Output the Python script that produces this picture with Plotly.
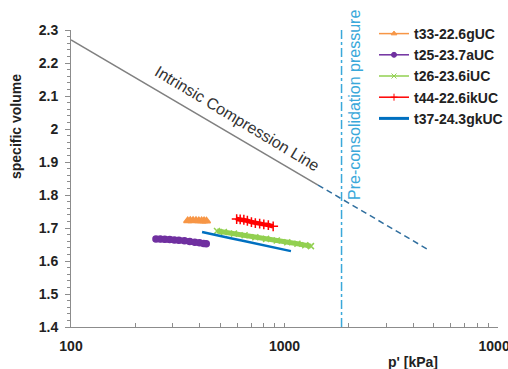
import plotly.graph_objects as go

# ---- data ----
icl_p = [100, 1436]
icl_v = [2.27, 1.83]
icl_ext_p = [1436, 4750]
icl_ext_v = [1.83, 1.633]
precon_p = [1850, 1850]
precon_v = [1.4, 2.3]

t33_p = [352, 362, 373, 385, 397, 409, 420, 431]
t33_v = [1.722, 1.723, 1.723, 1.723, 1.722, 1.722, 1.722, 1.721]

t25_p = [250, 262, 275, 290, 305, 320, 340, 360, 380, 400, 418, 430]
t25_v = [1.667, 1.667, 1.666, 1.665, 1.664, 1.663, 1.661, 1.659, 1.657, 1.655, 1.653, 1.652]

t26_p = [483, 520, 580, 650, 730, 820, 920, 1030, 1150, 1250, 1330]
t26_v = [1.691, 1.688, 1.683, 1.678, 1.672, 1.667, 1.662, 1.657, 1.652, 1.648, 1.645]

t44_p = [597, 620, 645, 670, 700, 730, 765, 800, 840, 885]
t44_v = [1.727, 1.726, 1.725, 1.722, 1.718, 1.715, 1.713, 1.711, 1.709, 1.705]

t37_p = [411, 450, 500, 560, 630, 710, 800, 900, 1000, 1072]
t37_v = [1.688, 1.683, 1.676, 1.669, 1.662, 1.655, 1.648, 1.641, 1.634, 1.630]

x_tickvals = [100, 200, 300, 400, 500, 600, 700, 800, 900,
              1000, 2000, 3000, 4000, 5000, 6000, 7000, 8000, 9000, 10000]
x_ticktext = ["100"] + [""] * 8 + ["1000"] + [""] * 8 + ["10000"]
y_tickvals = [1.4, 1.5, 1.6, 1.7, 1.8, 1.9, 2.0, 2.1, 2.2, 2.3]
y_ticktext = ["1.4", "1.5", "1.6", "1.7", "1.8", "1.9", "2", "2.1", "2.2", "2.3"]

series = [
    ("t33-22.6gUC", t33_p, t33_v, "#F79646", "triangle-up", 7, 5),
    ("t25-23.7aUC", t25_p, t25_v, "#7030A0", "circle", 6, 6),
    ("t26-23.6iUC", t26_p, t26_v, "#92D050", "x-thin-open", 6, 5),
    ("t44-22.6ikUC", t44_p, t44_v, "#FF0000", "cross-thin-open", 7, 4.5),
    ("t37-24.3gkUC", t37_p, t37_v, "#0070C0", None, 0, 2.5),
]

fig = go.Figure()

fig.add_trace(go.Scatter(x=icl_p, y=icl_v, mode="lines",
                         line=dict(color="#808080", width=1.6), showlegend=False))
fig.add_trace(go.Scatter(x=icl_ext_p, y=icl_ext_v, mode="lines",
                         line=dict(color="#2F6E9E", width=1.5, dash="6px,4px"), showlegend=False))
fig.add_trace(go.Scatter(x=precon_p, y=precon_v, mode="lines",
                         line=dict(color="#3AA8DA", width=1.5, dash="dashdot"), showlegend=False))

# data traces
for name, p, v, col, sym, msize, lw in series:
    if sym:
        fig.add_trace(go.Scatter(x=p, y=v, mode="lines+markers", showlegend=False,
                                 line=dict(color=col, width=lw),
                                 marker=dict(symbol=sym, size=msize, color=col,
                                             line=dict(color=col, width=1.5))))
    else:
        fig.add_trace(go.Scatter(x=p, y=v, mode="lines", showlegend=False,
                                 line=dict(color=col, width=lw)))

# legend entries
for i, (name, p, v, col, sym, msize, lw) in enumerate(series):
    if sym:
        fig.add_trace(go.Scatter(x=[None], y=[None], mode="lines+markers", name=name,
                                 legendgroup=str(i),
                                 line=dict(color=col, width=1.5),
                                 marker=dict(symbol=sym, size=5, color=col,
                                             line=dict(color=col, width=1))))
    else:
        fig.add_trace(go.Scatter(x=[None], y=[None], mode="lines", name=name,
                                 legendgroup=str(i),
                                 line=dict(color=col, width=3)))

L, R, T, B = 71, 10, 30, 42
W, H = 508, 369
pw, ph = W - L - R, H - T - B

def px(xp):
    return (xp - L) / pw

def py(yp):
    return (H - B - yp) / ph

fig.update_layout(
    template="none",
    width=W, height=H,
    margin=dict(l=L, r=R, t=T, b=B, autoexpand=False),
    paper_bgcolor="white", plot_bgcolor="white",
    font=dict(family="Liberation Sans, Arial, sans-serif", color="#222222"),
    showlegend=True,
    legend=dict(x=px(374), y=py(76), xanchor="left", yanchor="middle",
                font=dict(size=14, weight="bold", color="#222222"),
                bgcolor="rgba(0,0,0,0)", tracegroupgap=0, itemwidth=30),
    xaxis=dict(type="log", range=[2, 4], tickvals=x_tickvals, ticktext=x_ticktext,
               ticks="inside", ticklen=4, tickcolor="#8C8C8C", showline=True,
               linecolor="#8C8C8C", linewidth=1, showgrid=False, zeroline=False,
               tickfont=dict(size=14, weight="bold", color="#222222"),
               ticklabelstandoff=6, ticklabeloverflow="allow", automargin=False),
    yaxis=dict(range=[1.4, 2.3], tickvals=y_tickvals, ticktext=y_ticktext,
               ticks="outside", ticklen=5, tickcolor="#8C8C8C", showline=True,
               linecolor="#8C8C8C", linewidth=1, showgrid=False, zeroline=False,
               tickfont=dict(size=14, weight="bold", color="#222222"),
               minor=dict(dtick=0.02, tick0=1.4, ticks="outside", ticklen=3,
                          tickcolor="#8C8C8C", showgrid=False),
               ticklabelstandoff=4, automargin=False),
)

annotations = [
    dict(text="specific volume", x=px(16), y=py(127), textangle=-90,
         font=dict(size=14, weight="bold", color="#222222")),
    dict(text="p' [kPa]", x=px(413), y=py(362),
         font=dict(size=14, weight="bold", color="#222222")),
    dict(text="Intrinsic Compression Line", x=px(237), y=py(118.5), textangle=31,
         font=dict(size=16, color="#333333")),
    dict(text="Pre-consolidation pressure", x=px(355), y=py(105), textangle=-90,
         font=dict(size=16, color="#3AA8DA")),
]
for a in annotations:
    fig.add_annotation(xref="paper", yref="paper", showarrow=False,
                       xanchor="center", yanchor="middle", **a)

fig.write_html("out.html", config={"displayModeBar": False},
               post_script="document.body.style.margin='0px';document.body.style.overflow='hidden';")
